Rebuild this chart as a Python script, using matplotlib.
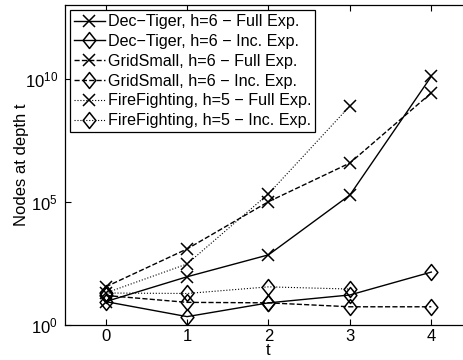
import numpy as np
import matplotlib
matplotlib.use("Agg")
import matplotlib.pyplot as plt
from matplotlib.path import Path

t = [0, 1, 2, 3, 4]
t_ff = [0, 1, 2, 3]

# log10 of node counts
dectiger_full = [0.95, 1.96, 2.85, 5.28, 10.1]
dectiger_inc = [0.95, 0.34, 0.9, 1.22, 2.15]
gridsmall_full = [1.55, 3.09, 5.01, 6.58, 9.43]
gridsmall_inc = [1.2, 0.92, 0.9, 0.74, 0.74]
firefighting_full = [1.3, 2.48, 5.33, 8.9]
firefighting_inc = [1.3, 1.28, 1.55, 1.46]

labels = [
    "Dec\u2212Tiger, h=6 \u2212 Full Exp.",
    "Dec\u2212Tiger, h=6 \u2212 Inc. Exp.",
    "GridSmall, h=6 \u2212 Full Exp.",
    "GridSmall, h=6 \u2212 Inc. Exp.",
    "FireFighting, h=5 \u2212 Full Exp.",
    "FireFighting, h=5 \u2212 Inc. Exp.",
]

plt.rcParams['font.family'] = ['Liberation Sans', 'DejaVu Sans']
plt.rcParams['mathtext.fontset'] = 'custom'
plt.rcParams['mathtext.rm'] = 'Liberation Sans'
plt.rcParams['mathtext.it'] = 'Liberation Sans'

diamond = Path([(0, 1), (0.8, 0), (0, -1), (-0.8, 0), (0, 1)],
               [Path.MOVETO, Path.LINETO, Path.LINETO, Path.LINETO, Path.CLOSEPOLY])

fig = plt.figure(figsize=(4.64, 3.6), dpi=100)
ax = fig.add_axes([65/464, 35/360, 407/464, 320/360])

series = [
    (t, dectiger_full, '-', 'x'),
    (t, dectiger_inc, '-', diamond),
    (t, gridsmall_full, '--', 'x'),
    (t, gridsmall_inc, '--', diamond),
    (t_ff, firefighting_full, ':', 'x'),
    (t_ff, firefighting_inc, ':', diamond),
]
for (xs, ys, ls, mk), lab in zip(series, labels):
    vals = [10 ** v for v in ys]
    ms = 8 if mk == 'x' else 11.5
    lw = 0.8 if ls == ':' else 1.0
    ax.plot(xs, vals, linestyle=ls, marker=mk, color='black', linewidth=lw,
            markersize=ms, markerfacecolor='none', markeredgewidth=1.1,
            markeredgecolor='black', label=lab)

ax.set_yscale('log')
ax.set_xlim(-0.5, 4.5)
ax.set_ylim(1, 1e13)
ax.set_xticks([0, 1, 2, 3, 4])
ax.set_yticks([1, 1e5, 1e10])
ax.yaxis.set_minor_locator(matplotlib.ticker.NullLocator())
ax.tick_params(direction='in', top=True, right=True, labelsize=12, length=4, pad=5)
ax.tick_params(axis='x', pad=3)
ax.set_xlabel('t', fontsize=12, labelpad=-1)
ax.set_ylabel('Nodes at depth t', fontsize=12, labelpad=-3)
for s in ax.spines.values():
    s.set_linewidth(0.9)

leg = ax.legend(loc='upper left', bbox_to_anchor=(0.012, 0.984), fontsize=11.6,
                frameon=True, fancybox=False, edgecolor='black', framealpha=1,
                borderaxespad=0, labelspacing=0.3, handlelength=1.9,
                handletextpad=0.2, borderpad=0.25)
leg.get_frame().set_linewidth(0.9)

fig.savefig('out.png', dpi=100)
